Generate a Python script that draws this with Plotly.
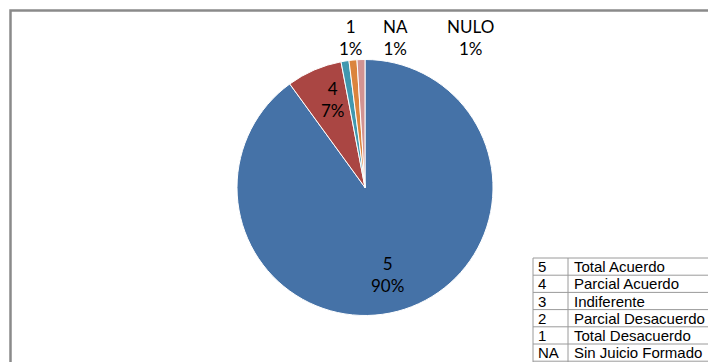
import plotly.graph_objects as go

# Survey answers: share of responses per category
categories = ["5", "4", "1", "NA", "NULO"]
values = [90, 7, 1, 1, 1]
slice_colors = ["#4572A7", "#AA4643", "#4198AF", "#DB843D", "#D19392"]

# Key for the answer codes
code_keys = ["5", "4", "3", "2", "1", "NA"]
code_names = ["Total Acuerdo", "Parcial Acuerdo", "Indiferente",
              "Parcial Desacuerdo", "Total Desacuerdo", "Sin Juicio Formado"]

W, H = 708, 362


def px(x):
    return x / W


def py(y):
    return 1 - y / H


# Pixel anchor of each data label (centre of the two-line text)
label_pos = {
    "5": (388, 274),
    "4": (333, 99),
    "1": (351, 38),
    "NA": (396, 38),
    "NULO": (470, 38),
}

fig = go.Figure()

fig.add_trace(go.Pie(
    labels=categories,
    values=values,
    sort=False,
    direction="clockwise",
    rotation=0,
    marker=dict(colors=slice_colors, line=dict(color="white", width=1)),
    textinfo="none",
    hoverinfo="label+percent",
    showlegend=False,
    domain=dict(x=[px(237), px(493)], y=[py(315.5), py(59.5)]),
))

total = sum(values)
annotations = []
for cat, val in zip(categories, values):
    x, y = label_pos[cat]
    annotations.append(dict(
        x=px(x), y=py(y), xref="paper", yref="paper",
        text=f"{cat}<br>{val / total * 100:.0f}%",
        showarrow=False, xanchor="center", yanchor="middle",
        font=dict(family="Lato", size=17, color="#000000"),
    ))

# Code key table drawn as a grid of lines with text cells
tbl_left, tbl_div, tbl_top, row_h = 533, 568, 258, 17.2
grid = dict(color="#9a9a9a", width=1)
shapes = []
n_rows = len(code_keys)
for i in range(n_rows + 1):
    yy = tbl_top + i * row_h
    shapes.append(dict(type="line", xref="paper", yref="paper",
                       x0=px(tbl_left), x1=1.05, y0=py(yy), y1=py(yy), line=grid))
for xx in (tbl_left, tbl_div):
    shapes.append(dict(type="line", xref="paper", yref="paper",
                       x0=px(xx), x1=px(xx), y0=py(tbl_top), y1=-0.05, line=grid))

table_font = dict(family="Liberation Sans", size=15, color="#000000")
for i, (k, name) in enumerate(zip(code_keys, code_names)):
    yc = tbl_top + (i + 0.5) * row_h
    annotations.append(dict(x=px(tbl_left + 3), y=py(yc), xref="paper", yref="paper",
                            text=k, showarrow=False, xanchor="left", yanchor="middle",
                            font=table_font))
    annotations.append(dict(x=px(tbl_div + 3.5), y=py(yc), xref="paper", yref="paper",
                            text=name, showarrow=False, xanchor="left", yanchor="middle",
                            font=table_font))

# Chart area border
shapes.append(dict(
    type="rect", xref="paper", yref="paper",
    x0=px(10.5), y0=py(10.5), x1=1.2, y1=-0.2,
    line=dict(color="#8a8a8a", width=2.5),
    fillcolor="rgba(0,0,0,0)", layer="above",
))

fig.update_layout(
    width=W, height=H,
    margin=dict(l=0, r=0, t=0, b=0),
    paper_bgcolor="white",
    plot_bgcolor="white",
    annotations=annotations,
    shapes=shapes,
)

fig.write_html("out.html")
